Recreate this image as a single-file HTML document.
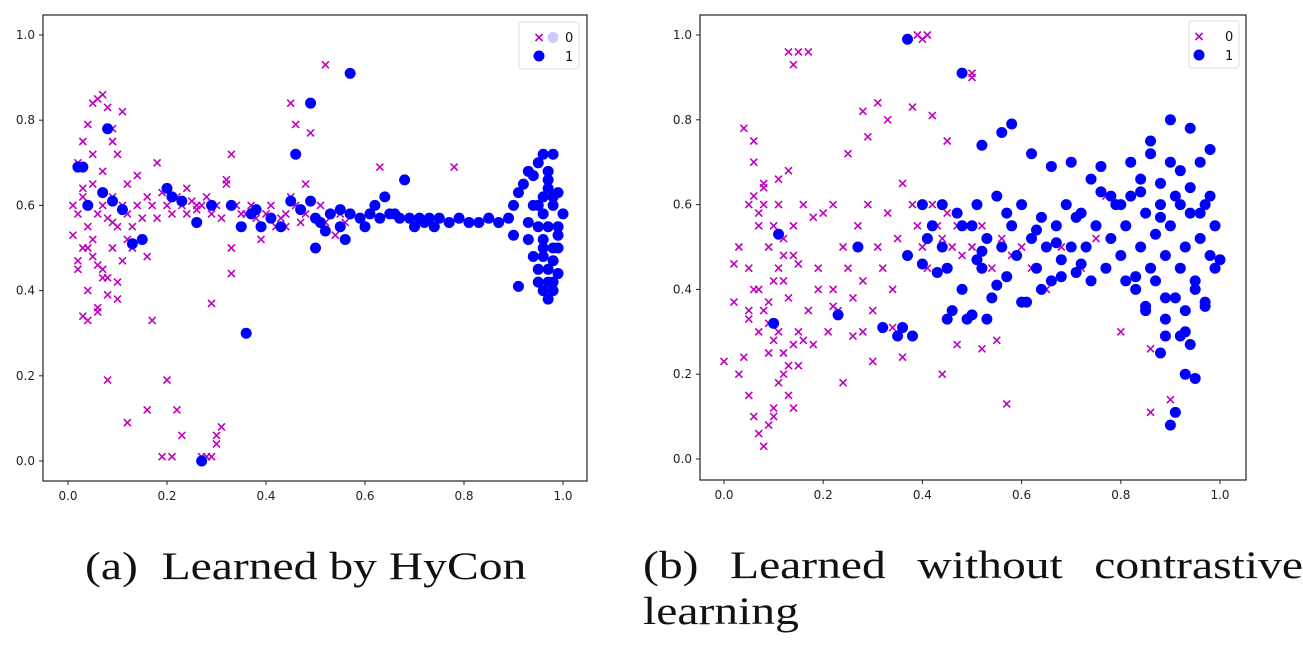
<!DOCTYPE html>
<html><head><meta charset="utf-8"><style>
body{margin:0;background:#fff;width:1303px;height:647px;overflow:hidden;font-family:"Liberation Sans",sans-serif}
svg text{font-family:"DejaVu Sans","Liberation Sans",sans-serif}
.cap{position:absolute;font-family:"Liberation Serif",serif;font-size:39px;color:#111;transform:scaleX(1.22);transform-origin:0 0}
</style></head><body>
<svg id="s" width="1303" height="647"></svg>
<div class="cap" style="left:85px;top:544px">(a)&nbsp;&nbsp;Learned by HyCon</div>
<div class="cap" style="left:643px;top:544px;width:541px;line-height:48px"><span style="display:flex;justify-content:space-between;line-height:44px"><span>(b)</span><span>Learned</span><span>without</span><span>contrastive</span></span>learning</div>
<script>
const xTicks=[0,0.2,0.4,0.6,0.8,1.0];
const yTicks=[0,0.2,0.4,0.6,0.8,1.0];
const tickLabels=["0.0","0.2","0.4","0.6","0.8","1.0"];
const aC0X=[0.01,0.02,0.02,0.03,0.03,0.04,0.04,0.05,0.05,0.06,0.06,0.07,0.07,0.08,0.08,0.09,0.09,0.1,0.1,0.11,0.11,0.12,0.12,0.13,0.14,0.15,0.16,0.17,0.18,0.19,0.2,0.21,0.22,0.23,0.24,0.25,0.26,0.27,0.28,0.29,0.3,0.31,0.32,0.33,0.34,0.35,0.37,0.38,0.4,0.41,0.42,0.43,0.44,0.45,0.46,0.47,0.48,0.5,0.51,0.52,0.53,0.55,0.56,0.45,0.46,0.49,0.52,0.02,0.03,0.04,0.05,0.06,0.07,0.08,0.09,0.1,0.11,0.04,0.06,0.08,0.1,0.13,0.16,0.03,0.05,0.07,0.09,0.03,0.08,0.17,0.12,0.16,0.21,0.23,0.22,0.2,0.19,0.27,0.28,0.29,0.3,0.3,0.31,0.33,0.29,0.33,0.32,0.63,0.78,0.02,0.05,0.07,0.09,0.01,0.04,0.06,0.12,0.14,0.18,0.24,0.26,0.36,0.39,0.44,0.48,0.54];
const aC0Y=[0.53,0.58,0.45,0.62,0.5,0.55,0.4,0.65,0.48,0.58,0.35,0.6,0.45,0.57,0.43,0.62,0.5,0.55,0.38,0.6,0.47,0.58,0.65,0.55,0.6,0.57,0.62,0.6,0.57,0.63,0.6,0.58,0.62,0.6,0.58,0.61,0.59,0.6,0.62,0.58,0.6,0.57,0.66,0.72,0.6,0.58,0.6,0.57,0.58,0.6,0.55,0.57,0.58,0.62,0.6,0.56,0.58,0.57,0.6,0.56,0.58,0.58,0.56,0.84,0.79,0.77,0.93,0.7,0.75,0.79,0.84,0.85,0.86,0.83,0.78,0.72,0.82,0.33,0.36,0.39,0.42,0.5,0.48,0.64,0.72,0.68,0.75,0.34,0.19,0.33,0.09,0.12,0.01,0.06,0.12,0.19,0.01,0.01,0.01,0.01,0.04,0.06,0.08,0.44,0.37,0.5,0.65,0.69,0.69,0.47,0.52,0.43,0.56,0.6,0.5,0.46,0.52,0.67,0.7,0.64,0.6,0.58,0.52,0.55,0.65,0.53];
const aC1X=[0.02,0.04,0.07,0.09,0.11,0.13,0.15,0.2,0.21,0.23,0.26,0.29,0.33,0.35,0.37,0.39,0.41,0.43,0.45,0.47,0.49,0.5,0.51,0.53,0.55,0.57,0.59,0.61,0.63,0.65,0.67,0.69,0.71,0.73,0.75,0.77,0.79,0.81,0.83,0.85,0.87,0.89,0.9,0.91,0.92,0.93,0.94,0.95,0.95,0.96,0.96,0.97,0.97,0.98,0.98,0.99,0.99,1.0,0.93,0.94,0.95,0.96,0.97,0.98,0.99,0.96,0.97,0.98,0.95,0.96,0.97,0.98,0.99,0.93,0.94,0.96,0.97,0.98,0.97,0.96,0.95,0.99,0.98,0.64,0.68,0.62,0.6,0.66,0.57,0.38,0.49,0.46,0.27,0.36,0.08,0.03,0.52,0.56,0.5,0.55,0.7,0.72,0.74,0.9,0.91];
const aC1Y=[0.69,0.6,0.63,0.61,0.59,0.51,0.52,0.64,0.62,0.61,0.56,0.6,0.6,0.55,0.58,0.55,0.57,0.55,0.61,0.59,0.61,0.57,0.56,0.58,0.59,0.58,0.57,0.58,0.57,0.58,0.57,0.57,0.57,0.57,0.57,0.56,0.57,0.56,0.56,0.57,0.56,0.57,0.6,0.63,0.65,0.68,0.67,0.7,0.55,0.72,0.5,0.66,0.45,0.6,0.4,0.55,0.44,0.58,0.52,0.48,0.42,0.4,0.38,0.47,0.53,0.62,0.68,0.72,0.45,0.48,0.42,0.5,0.63,0.56,0.6,0.58,0.64,0.62,0.55,0.52,0.6,0.5,0.42,0.62,0.66,0.6,0.55,0.58,0.91,0.59,0.84,0.72,0.0,0.3,0.78,0.69,0.54,0.52,0.5,0.55,0.55,0.56,0.55,0.53,0.41];
const bC0X=[0.0,0.02,0.03,0.04,0.05,0.05,0.06,0.06,0.07,0.07,0.08,0.08,0.09,0.09,0.1,0.1,0.11,0.11,0.12,0.12,0.13,0.13,0.14,0.14,0.15,0.15,0.16,0.17,0.18,0.19,0.2,0.21,0.22,0.23,0.24,0.25,0.26,0.27,0.28,0.29,0.3,0.31,0.32,0.33,0.34,0.35,0.36,0.37,0.38,0.39,0.4,0.41,0.42,0.43,0.44,0.45,0.46,0.47,0.48,0.5,0.52,0.54,0.56,0.58,0.6,0.62,0.65,0.68,0.72,0.75,0.8,0.86,0.9,0.04,0.06,0.08,0.1,0.12,0.14,0.05,0.07,0.09,0.11,0.13,0.03,0.06,0.08,0.1,0.12,0.05,0.07,0.09,0.11,0.16,0.13,0.14,0.15,0.17,0.39,0.4,0.41,0.5,0.5,0.28,0.31,0.38,0.42,0.45,0.06,0.08,0.07,0.11,0.13,0.09,0.12,0.14,0.02,0.05,0.1,0.15,0.19,0.22,0.26,0.3,0.34,0.36,0.44,0.47,0.52,0.55,0.22,0.25,0.29,0.33,0.28,0.24,0.18,0.86,0.77,0.57];
const bC0Y=[0.23,0.37,0.5,0.24,0.45,0.6,0.4,0.75,0.3,0.55,0.35,0.65,0.25,0.5,0.1,0.42,0.3,0.6,0.2,0.48,0.15,0.38,0.55,0.12,0.3,0.46,0.6,0.35,0.27,0.45,0.58,0.3,0.4,0.35,0.5,0.45,0.38,0.55,0.42,0.6,0.35,0.5,0.45,0.58,0.4,0.52,0.65,0.48,0.6,0.55,0.5,0.45,0.6,0.55,0.52,0.58,0.5,0.55,0.48,0.5,0.55,0.45,0.52,0.48,0.5,0.45,0.4,0.5,0.45,0.52,0.3,0.11,0.14,0.78,0.7,0.6,0.55,0.52,0.48,0.15,0.06,0.08,0.18,0.22,0.2,0.1,0.03,0.12,0.25,0.35,0.4,0.32,0.45,0.28,0.96,0.93,0.96,0.96,1.0,0.99,1.0,0.91,0.9,0.82,0.84,0.83,0.81,0.75,0.62,0.64,0.58,0.66,0.68,0.37,0.42,0.27,0.46,0.33,0.28,0.22,0.4,0.36,0.29,0.23,0.31,0.24,0.2,0.27,0.26,0.28,0.6,0.72,0.76,0.8,0.3,0.18,0.57,0.26,0.62,0.13,0.15,0.34,0.42,0.25,0.32,0.27,0.67,0.79];
const bC1X=[0.1,0.11,0.23,0.27,0.32,0.35,0.37,0.38,0.4,0.41,0.42,0.43,0.44,0.45,0.46,0.47,0.48,0.49,0.5,0.51,0.52,0.53,0.54,0.55,0.56,0.57,0.58,0.59,0.6,0.61,0.62,0.63,0.64,0.65,0.66,0.67,0.68,0.69,0.7,0.71,0.72,0.73,0.74,0.75,0.76,0.77,0.78,0.79,0.8,0.81,0.82,0.83,0.84,0.85,0.86,0.87,0.88,0.89,0.9,0.91,0.92,0.93,0.94,0.95,0.96,0.97,0.98,0.99,1.0,0.82,0.84,0.86,0.88,0.9,0.92,0.94,0.96,0.98,0.83,0.85,0.87,0.89,0.91,0.93,0.95,0.97,0.99,0.8,0.84,0.88,0.92,0.96,0.81,0.85,0.89,0.93,0.97,0.86,0.9,0.94,0.98,0.92,0.94,0.88,0.93,0.95,0.91,0.9,0.89,0.37,0.48,0.52,0.56,0.58,0.62,0.66,0.7,0.74,0.76,0.78,0.45,0.5,0.55,0.6,0.64,0.68,0.72,0.36,0.4,0.44,0.48,0.52,0.57,0.63,0.67,0.71,0.51,0.53];
const bC1Y=[0.32,0.53,0.34,0.5,0.31,0.29,0.48,0.29,0.6,0.52,0.55,0.44,0.6,0.45,0.35,0.58,0.4,0.33,0.55,0.6,0.45,0.52,0.38,0.62,0.5,0.43,0.55,0.48,0.6,0.37,0.52,0.45,0.57,0.5,0.42,0.55,0.47,0.6,0.5,0.44,0.58,0.5,0.42,0.55,0.63,0.45,0.52,0.6,0.48,0.55,0.62,0.43,0.5,0.58,0.45,0.53,0.6,0.48,0.55,0.62,0.45,0.5,0.58,0.42,0.52,0.6,0.48,0.55,0.47,0.7,0.66,0.72,0.65,0.7,0.68,0.64,0.7,0.62,0.4,0.36,0.42,0.33,0.38,0.35,0.4,0.37,0.45,0.6,0.63,0.57,0.6,0.58,0.42,0.35,0.38,0.3,0.36,0.75,0.8,0.78,0.73,0.29,0.27,0.25,0.2,0.19,0.11,0.08,0.29,0.99,0.91,0.74,0.77,0.79,0.72,0.69,0.7,0.66,0.69,0.62,0.33,0.34,0.41,0.37,0.4,0.43,0.46,0.31,0.46,0.5,0.55,0.49,0.58,0.54,0.51,0.57,0.47,0.33];
const NS='http://www.w3.org/2000/svg';
const svg=document.getElementById('s');
function mk(t,a,p){const e=document.createElementNS(NS,t);for(const k in a)e.setAttribute(k,a[k]);(p||svg).appendChild(e);return e;}
function panel(id,L,T,R,B,x0,x1,y0,y1,c0x,c0y,c1x,c1y,leg,lx,ly,ghost){
 const g=mk('g',{});
 
 
 const sx=v=>x0+(x1-x0)*v, sy=v=>y0+(y1-y0)*v;
 for(let i=0;i<c0x.length;i++){const x=sx(c0x[i]),y=sy(c0y[i]);
  const m=mk('path',{d:`M${x-3.5},${y-3.5}L${x+3.5},${y+3.5}M${x-3.5},${y+3.5}L${x+3.5},${y-3.5}`,stroke:'#bf00bf','stroke-width':1.6},g);
  
  }
 for(let i=0;i<c1x.length;i++){const c=mk('circle',{cx:sx(c1x[i]),cy:sy(c1y[i]),r:5.5,fill:'#0000ff'},g);
  
  }
 const f=mk('rect',{x:L,y:T,width:R-L,height:B-T,fill:'none',stroke:'#222','stroke-width':1.2},g);
 
 
 xTicks.forEach((v,i)=>{const x=sx(v);mk('line',{x1:x,x2:x,y1:B,y2:B+4,stroke:'#222'},g);
  const t=mk('text',{x:x,y:B+19,'font-size':12,'text-anchor':'middle',fill:'#222'},g);t.textContent=tickLabels[i];
  
  });
 yTicks.forEach((v,i)=>{const y=sy(v);mk('line',{x1:L-4,x2:L,y1:y,y2:y,stroke:'#222'},g);
  const t=mk('text',{x:L-8,y:y+4,'font-size':12,'text-anchor':'end',fill:'#222'},g);t.textContent=tickLabels[i];
  
  });
 const lg=mk('g',{},g);
 
 
 mk('rect',{x:lx,y:ly,width:leg,height:47,rx:3,fill:'#fff',stroke:'#ddd'},lg);
 const mx=lx+leg-40;
 mk('path',{d:`M${mx-3.5},${ly+12}L${mx+3.5},${ly+19}M${mx-3.5},${ly+19}L${mx+3.5},${ly+12}`,stroke:'#bf00bf','stroke-width':1.6},lg);
 if(ghost)mk('circle',{cx:mx+14,cy:ly+15.5,r:5.5,fill:'#ccccff'},lg);
 mk('circle',{cx:mx,cy:ly+34,r:5.5,fill:'#0000ff'},lg);
 const a=mk('text',{x:lx+leg-14,y:ly+20,'font-size':13,fill:'#111'},lg);a.textContent='0';
 const b=mk('text',{x:lx+leg-14,y:ly+39,'font-size':13,fill:'#111'},lg);b.textContent='1';
}
panel('chart-a-hycon',43,15,587,481,68,563,461,35,aC0X,aC0Y,aC1X,aC1Y,60,519,22,true);
panel('chart-b-no-contrastive',700,15,1246,480,724,1220,459,35,bC0X,bC0Y,bC1X,bC1Y,50,1189,21,false);
</script>
</body></html>
